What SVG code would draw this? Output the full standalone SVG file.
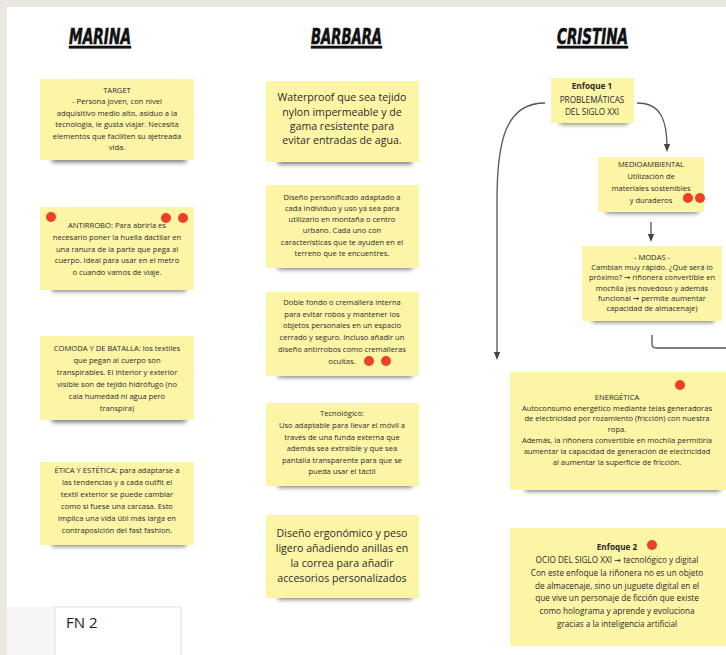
<svg xmlns="http://www.w3.org/2000/svg" width="726" height="655" viewBox="0 0 726 655">
<defs>
<filter id="blur" x="-20%" y="-100%" width="140%" height="300%"><feGaussianBlur stdDeviation="2.5"/></filter>
<marker id="arr" viewBox="0 0 10 10" refX="5" refY="5" markerWidth="6" markerHeight="6" orient="auto-start-reverse"><path d="M0,1 L10,5 L0,9 z" fill="#444"/></marker>
<style>
.note{fill:#fdf5a6}
.sh{fill:#000;opacity:.6;filter:url(#blur)}
.t{font-family:"Open Sans","DejaVu Sans",sans-serif;font-size:7.6px;fill:#2a2a2a;text-anchor:middle}
.tb{font-family:"Open Sans","DejaVu Sans",sans-serif;font-size:10.6px;fill:#2a2a2a;text-anchor:middle}
.tm{font-family:"Open Sans","DejaVu Sans",sans-serif;font-size:8.2px;fill:#2a2a2a;text-anchor:middle}
.b{font-weight:bold}
.h{font-family:"DejaVu Sans Condensed","DejaVu Sans",sans-serif;font-weight:bold;font-style:italic;font-size:22px;fill:#111;stroke:#111;stroke-width:0.6;text-decoration:underline}
.dot{fill:#ee4123}
.c{fill:none;stroke:#555;stroke-width:1.3}
</style>
</defs>
<rect width="726" height="655" fill="#ffffff"/>
<rect x="0" y="0" width="726" height="7" fill="#ebe8e2"/>
<rect x="0" y="0" width="7" height="655" fill="#ebe8e2"/>

<g id="headers">
<text class="h" x="69" y="44" textLength="62" lengthAdjust="spacingAndGlyphs">MARINA</text>
<text class="h" x="311" y="44" textLength="71" lengthAdjust="spacingAndGlyphs">BARBARA</text>
<text class="h" x="557" y="44" textLength="71" lengthAdjust="spacingAndGlyphs">CRISTINA</text>
</g>

<g id="connectors">
<path class="c" d="M637,103 C662,103 667,122 667,148" marker-end="url(#arr)"/>
<path class="c" d="M545,103 C506,103 497,140 497,200 L497,356" marker-end="url(#arr)"/>
<path class="c" d="M651,222 L651,238" marker-end="url(#arr)"/>
<path class="c" d="M652,335 L652,344 Q652,348 656,348 L726,348"/>
</g>

<!-- MARINA -->
<g id="m-target">
<rect class="sh" x="52" y="156" width="134" height="6"/>
<rect class="note" x="40" y="79" width="154" height="81"/>
<text class="t" x="117" y="93">TARGET</text>
<text class="t" x="117" y="104">- Persona joven, con nivel</text>
<text class="t" x="117" y="116">adquisitivo medio alto, asiduo a la</text>
<text class="t" x="117" y="127">tecnología, le gusta viajar. Necesita</text>
<text class="t" x="117" y="139">elementos que faciliten su ajetreada</text>
<text class="t" x="117" y="150">vida.</text>
</g>
<g id="m-antirrobo">
<rect class="sh" x="52" y="285" width="134" height="6"/>
<rect class="note" x="40" y="207" width="154" height="83"/>
<text class="t" x="117" y="228">ANTIRROBO: Para abrirla es</text>
<text class="t" x="117" y="240">necesario poner la huella dactilar en</text>
<text class="t" x="117" y="252">una ranura de la parte que pega al</text>
<text class="t" x="117" y="263">cuerpo. Ideal para usar en el metro</text>
<text class="t" x="117" y="275">o cuando vamos de viaje.</text>
<circle class="dot" cx="51" cy="217" r="5"/>
<circle class="dot" cx="166" cy="218" r="5"/>
<circle class="dot" cx="183" cy="218" r="5"/>
</g>
<g id="m-comoda">
<rect class="sh" x="52" y="416" width="134" height="6"/>
<rect class="note" x="40" y="336" width="154" height="84"/>
<text class="t" x="117" y="351">COMODA Y DE BATALLA: los textiles</text>
<text class="t" x="117" y="363">que pegan al cuerpo son</text>
<text class="t" x="117" y="375">transpirables. El interior y exterior</text>
<text class="t" x="117" y="387">visible son de tejido hidrófugo (no</text>
<text class="t" x="117" y="399">cala humedad ni agua pero</text>
<text class="t" x="117" y="411">transpira)</text>
</g>
<g id="m-etica">
<rect class="sh" x="52" y="540" width="134" height="6"/>
<rect class="note" x="40" y="462" width="154" height="83"/>
<text class="t" x="117" y="473">ÉTICA Y ESTÉTICA: para adaptarse a</text>
<text class="t" x="117" y="485">las tendencias y a cada outfit el</text>
<text class="t" x="117" y="497">textil exterior se puede cambiar</text>
<text class="t" x="117" y="509">como si fuese una carcasa. Esto</text>
<text class="t" x="117" y="521">implica una vida útil más larga en</text>
<text class="t" x="117" y="533">contraposición del fast fashion.</text>
</g>

<!-- BARBARA -->
<g id="b-waterproof">
<rect class="sh" x="278" y="158" width="134" height="6"/>
<rect class="note" x="266" y="81" width="153" height="81"/>
<text class="tb" x="342" y="101">Waterproof que sea tejido</text>
<text class="tb" x="342" y="116">nylon impermeable y de</text>
<text class="tb" x="342" y="130">gama resistente para</text>
<text class="tb" x="342" y="144">evitar entradas de agua.</text>
</g>
<g id="b-disenio">
<rect class="sh" x="278" y="263" width="134" height="6"/>
<rect class="note" x="266" y="185" width="153" height="83"/>
<text class="t" x="342" y="200">Diseño personificado adaptado a</text>
<text class="t" x="342" y="211">cada individuo y uso ya sea para</text>
<text class="t" x="342" y="222">utilizarlo en montaña o centro</text>
<text class="t" x="342" y="233">urbano. Cada uno con</text>
<text class="t" x="342" y="245">características que te  ayuden en el</text>
<text class="t" x="342" y="256">terreno que te encuentres.</text>
</g>
<g id="b-doble">
<rect class="sh" x="278" y="371" width="134" height="6"/>
<rect class="note" x="266" y="292" width="153" height="84"/>
<text class="t" x="342" y="305">Doble fondo o cremallera interna</text>
<text class="t" x="342" y="317">para evitar robos y mantener los</text>
<text class="t" x="342" y="328">objetos personales en un espacio</text>
<text class="t" x="342" y="340">cerrado y seguro. Incluso añadir un</text>
<text class="t" x="342" y="352">diseño antirrobos como cremalleras</text>
<text class="t" x="342" y="364">ocultas.</text>
<circle class="dot" cx="369" cy="361" r="5"/>
<circle class="dot" cx="386" cy="361" r="5"/>
</g>
<g id="b-tecno">
<rect class="sh" x="278" y="481" width="134" height="6"/>
<rect class="note" x="266" y="403" width="153" height="83"/>
<text class="t" x="342" y="416">Tecnológico:</text>
<text class="t" x="342" y="428">Uso adaptable para llevar el móvil a</text>
<text class="t" x="342" y="440">través de una funda externa que</text>
<text class="t" x="342" y="451">además sea extraíble y que sea</text>
<text class="t" x="342" y="463">pantalla transparente para que se</text>
<text class="t" x="342" y="474">pueda usar el táctil</text>
</g>
<g id="b-ergonomico">
<rect class="sh" x="278" y="593" width="134" height="6"/>
<rect class="note" x="266" y="515" width="153" height="83"/>
<text class="tb" x="342" y="537">Diseño ergonómico y peso</text>
<text class="tb" x="342" y="552">ligero añadiendo anillas en</text>
<text class="tb" x="342" y="567">la correa para añadir</text>
<text class="tb" x="342" y="582">accesorios personalizados</text>
</g>

<!-- CRISTINA -->
<g id="c-enfoque1">
<rect class="sh" x="560" y="119" width="68" height="5"/>
<rect class="note" x="551" y="78" width="83" height="45"/>
<text class="tm b" x="592" y="89">Enfoque 1</text>
<text class="tm" x="592" y="103">PROBLEMÁTICAS</text>
<text class="tm" x="592" y="115">DEL SIGLO XXI</text>
</g>
<g id="c-medio">
<rect class="sh" x="606" y="208" width="92" height="5"/>
<rect class="note" x="598" y="157" width="106" height="55"/>
<text class="t" x="651" y="167">MEDIOAMBIENTAL</text>
<text class="t" x="651" y="179">Utilización de</text>
<text class="t" x="651" y="191">materiales sostenibles</text>
<text class="t" x="651" y="203">y duraderos</text>
<circle class="dot" cx="688" cy="198" r="5"/>
<circle class="dot" cx="700" cy="198" r="5"/>
</g>
<g id="c-modas">
<rect class="sh" x="592" y="316" width="122" height="6"/>
<rect class="note" x="582" y="246" width="140" height="75"/>
<text class="t" x="652" y="260">- MODAS -</text>
<text class="t" x="652" y="270">Cambian muy rápido. ¿Qué será lo</text>
<text class="t" x="652" y="280">próximo? → riñonera convertible en</text>
<text class="t" x="652" y="291">mochila (es novedoso y además</text>
<text class="t" x="652" y="301">funcional → permite aumentar</text>
<text class="t" x="652" y="311">capacidad de almacenaje)</text>
</g>
<g id="c-energetica">
<rect class="sh" x="525" y="485" width="195" height="6"/>
<rect class="note" x="510" y="372" width="216" height="118"/>
<text class="t" x="617" y="400">ENERGÉTICA</text>
<text class="t" x="617" y="411">Autoconsumo energético mediante telas generadoras</text>
<text class="t" x="617" y="421">de electricidad por rozamiento (fricción) con nuestra</text>
<text class="t" x="617" y="432">ropa.</text>
<text class="t" x="617" y="443">Además, la riñonera convertible en mochila permitiría</text>
<text class="t" x="617" y="454">aumentar la capacidad de generación de electricidad</text>
<text class="t" x="617" y="465">al aumentar la superficie de fricción.</text>
<circle class="dot" cx="680" cy="385" r="5"/>
</g>
<g id="c-enfoque2">
<rect class="note" x="510" y="528" width="216" height="118"/>
<text class="tm b" x="617" y="550">Enfoque 2</text>
<text class="tm" x="617" y="563">OCIO DEL SIGLO XXI → tecnológico y digital</text>
<text class="tm" x="617" y="576">Con este enfoque la riñonera no es un objeto</text>
<text class="tm" x="617" y="589">de almacenaje, sino un juguete digital en el</text>
<text class="tm" x="617" y="601">que vive un personaje de ficción que existe</text>
<text class="tm" x="617" y="614">como holograma y aprende y evoluciona</text>
<text class="tm" x="617" y="627">gracias a la inteligencia artificial</text>
<circle class="dot" cx="652" cy="545" r="5"/>
</g>

<g id="fn2">
<rect x="7" y="607" width="48" height="48" fill="#f6f6f6"/>
<rect x="55" y="607" width="126" height="50" fill="#ffffff" stroke="#dddddd" stroke-width="1"/>
<text x="66" y="628" font-family="Open Sans, DejaVu Sans, sans-serif" font-size="15" fill="#222">FN 2</text>
</g>
</svg>
